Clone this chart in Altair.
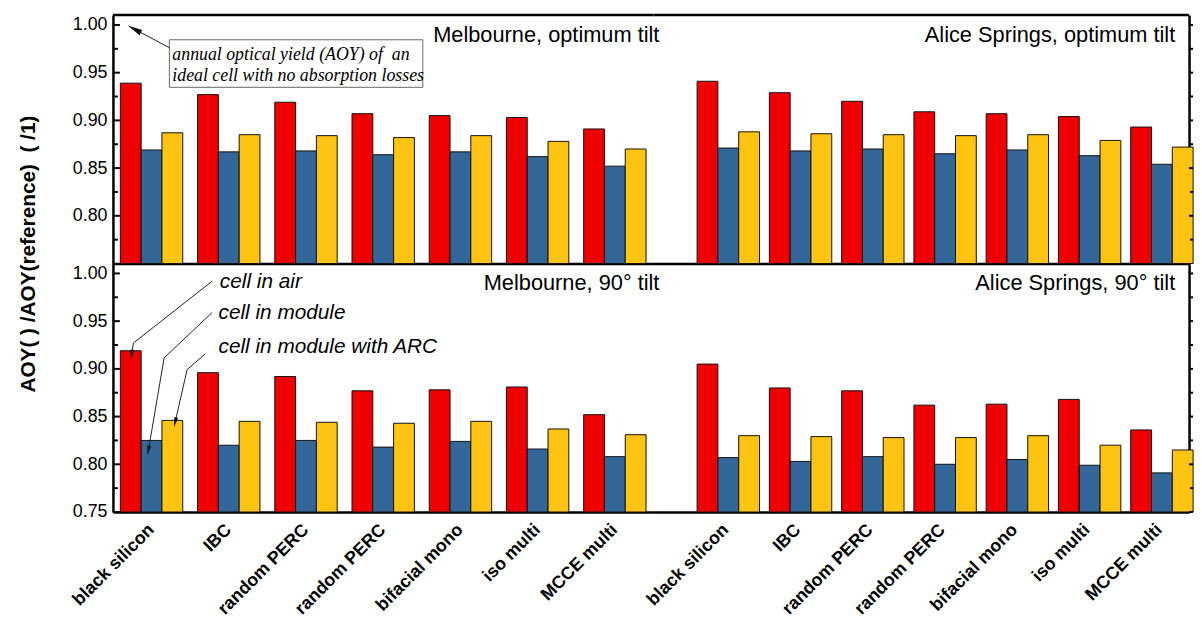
import json
import altair as alt
import pandas as pd

categories = ["black silicon", "IBC", "random PERC", "random PERC", "bifacial mono", "iso multi", "MCCE multi"]
series = ["cell in air", "cell in module", "cell in module with ARC"]
colors = ["#EE0000", "#336699", "#FFC312"]

mel_opt_air = [0.939, 0.927, 0.919, 0.907, 0.905, 0.903, 0.891]
mel_opt_mod = [0.869, 0.867, 0.868, 0.864, 0.867, 0.862, 0.852]
mel_opt_arc = [0.887, 0.885, 0.884, 0.882, 0.884, 0.878, 0.870]

ali_opt_air = [0.941, 0.929, 0.920, 0.909, 0.907, 0.904, 0.893]
ali_opt_mod = [0.871, 0.868, 0.870, 0.865, 0.869, 0.863, 0.854]
ali_opt_arc = [0.888, 0.886, 0.885, 0.884, 0.885, 0.879, 0.872]

mel_90_air = [0.919, 0.896, 0.892, 0.877, 0.878, 0.881, 0.852]
mel_90_mod = [0.825, 0.820, 0.825, 0.818, 0.824, 0.816, 0.808]
mel_90_arc = [0.846, 0.845, 0.844, 0.843, 0.845, 0.837, 0.831]

ali_90_air = [0.905, 0.880, 0.877, 0.862, 0.863, 0.868, 0.836]
ali_90_mod = [0.807, 0.803, 0.808, 0.800, 0.805, 0.799, 0.791]
ali_90_arc = [0.830, 0.829, 0.828, 0.828, 0.830, 0.820, 0.815]

panel_titles = ["Melbourne, optimum tilt", "Alice Springs, optimum tilt",
                "Melbourne, 90\u00b0 tilt", "Alice Springs, 90\u00b0 tilt"]
y_title = "AOY( ) /AOY(reference)\u00a0\u00a0( /1)"
box_lines = ["annual optical yield (AOY) of\u00a0\u00a0an", "ideal cell with no absorption losses"]

y_domain = [0.75, 1.0104]
major_top = [0.80, 0.85, 0.90, 0.95, 1.00]
major_bottom = [0.75, 0.80, 0.85, 0.90, 0.95, 1.00]
minor_ticks = [0.775, 0.825, 0.875, 0.925, 0.975]

H = 251
W_LEFT = 546
W_RIGHT = 541
FONT = "Liberation Sans"
PAD = {"left": 10, "top": 2, "right": 0, "bottom": 0}

one = alt.Data(values=[{}])


def seg(x1, y1, x2, y2, w=1):
    return alt.Chart(one).mark_rule(color="#222", strokeWidth=w).encode(
        x=alt.value(x1), y=alt.value(y1), x2=alt.value(x2), y2=alt.value(y2))


def head(x, y, angle, size):
    return alt.Chart(one).mark_point(
        shape="M0,-1L0.4,1L-0.4,1Z", filled=True, color="#111", opacity=1,
        strokeWidth=0, angle=angle, size=size).encode(x=alt.value(x), y=alt.value(y))


def text(x, y, s, size=21, align="left", font=FONT, style="normal", weight="normal"):
    return alt.Chart(one).mark_text(
        text=s, align=align, baseline="middle", fontSize=size, font=font,
        fontStyle=style, fontWeight=weight, color="black").encode(
        x=alt.value(x), y=alt.value(y))


def panel(air, mod, arc, side, row, title_text, extra=None):
    W = W_LEFT if side == "left" else W_RIGHT
    rows = []
    for i in range(len(categories)):
        for s, vals in zip(series, [air, mod, arc]):
            rows.append({"idx": i, "series": s, "v": vals[i]})
    df = pd.DataFrame(rows)

    if side == "left":
        xscale = alt.Scale(paddingInner=0.192, paddingOuter=0.096)
    else:
        xscale = alt.Scale(paddingInner=0.205, paddingOuter=0.308, align=0.98)

    if row == "bottom":
        xaxis = alt.Axis(
            labelExpr="%s[datum.value]" % json.dumps(categories),
            labelAngle=-45, labelAlign="right", labelBaseline="middle",
            labelFontSize=18, labelFontWeight="bold", labelFont=FONT, labelColor="black",
            labelPadding=15, labelOverlap=False, ticks=False, tickSize=0,
            domainColor="black", domainWidth=2.5, title=None, grid=False)
    else:
        xaxis = alt.Axis(labels=False, ticks=False, tickSize=0, domainColor="black",
                         domainWidth=2.5, title=None, grid=False)

    yscale = alt.Scale(domain=y_domain, nice=False, zero=False)
    if side == "left":
        yaxis_kw = dict(
            orient="left", values=major_top if row == "top" else major_bottom,
            format=".2f", ticks=False, tickSize=0, domainColor="black", domainWidth=2.5,
            labelFontSize=18, labelFont=FONT, labelColor="black", labelPadding=6, grid=False)
        if row == "top":
            yaxis_kw.update(title=y_title, titleX=-85, titleY=241, titleAngle=270,
                            titleAlign="center", titleBaseline="middle", titleFontSize=21,
                            titleFont=FONT, titleFontWeight="bold", titleColor="black")
        else:
            yaxis_kw.update(title=None)
        yaxis = alt.Axis(**yaxis_kw)
    else:
        yaxis = alt.Axis(orient="right", labels=False, ticks=False, tickSize=0,
                         domainColor="black", domainWidth=2.5, grid=False, title=None)

    bars = alt.Chart(df).mark_bar(stroke="#111", strokeWidth=1).encode(
        x=alt.X("idx:O", scale=xscale, axis=xaxis),
        xOffset=alt.XOffset("series:N", sort=series,
                            scale=alt.Scale(paddingInner=0, paddingOuter=0)),
        y=alt.Y("v:Q", scale=yscale, axis=yaxis),
        y2=alt.datum(0.75),
        color=alt.Color("series:N", sort=series,
                        scale=alt.Scale(domain=series, range=colors), legend=None),
    )

    major = major_top if row == "top" else major_bottom
    if side == "left":
        mx1, mx2, nx1, nx2 = 0, 7, 0, 5
    else:
        mx1, mx2, nx1, nx2 = W, W + 4, W + 1, W + 4
    maj = alt.Chart(pd.DataFrame({"v": major})).mark_rule(color="black", strokeWidth=2).encode(
        y=alt.Y("v:Q", scale=yscale, axis=yaxis), x=alt.value(mx1), x2=alt.value(mx2))
    mnr = alt.Chart(pd.DataFrame({"v": minor_ticks})).mark_rule(color="black", strokeWidth=2).encode(
        y=alt.Y("v:Q", scale=yscale, axis=yaxis), x=alt.value(nx1), x2=alt.value(nx2))

    layers = [bars, maj, mnr]
    if row == "top":
        layers.append(alt.Chart(one).mark_rule(color="black", strokeWidth=2.5).encode(
            x=alt.value(0), x2=alt.value(W), y=alt.value(0)))
    tx = W + 6 if side == "left" else 527
    layers.append(text(tx, 20, title_text, size=22, align="right"))
    if extra:
        layers.extend(extra)
    return alt.layer(*layers).properties(width=W, height=H)


box = [
    alt.Chart(one).mark_rect(fill="white", stroke="#666", strokeWidth=1).encode(
        x=alt.value(57), x2=alt.value(313), y=alt.value(25), y2=alt.value(73)),
    text(60, 40, box_lines[0], size=18, font="Liberation Serif", style="italic"),
    text(60, 62, box_lines[1], size=18, font="Liberation Serif", style="italic"),
    seg(57, 33, 21.6, 14.2),
    head(21.6, 14.2, 298, 225),
]

labels_ann = [
    text(108, 19, series[0], size=21, style="italic"),
    text(106.7, 50, series[1], size=21, style="italic"),
    text(106.7, 84.5, series[2], size=21, style="italic"),
    seg(100, 18, 20.7, 80.3), seg(20.7, 80.3, 19.0, 92.1), head(19.0, 92.1, 188, 100),
    seg(100, 49.7, 51.7, 95.3), seg(51.7, 95.3, 35.8, 188.8), head(35.8, 188.8, 190, 100),
    seg(93.3, 91.3, 75, 107), seg(75, 107, 62.8, 160.4), head(62.8, 160.4, 193, 100),
]

tl = panel(mel_opt_air, mel_opt_mod, mel_opt_arc, "left", "top", panel_titles[0], box)
tr = panel(ali_opt_air, ali_opt_mod, ali_opt_arc, "right", "top", panel_titles[1])
bl = panel(mel_90_air, mel_90_mod, mel_90_arc, "left", "bottom", panel_titles[2], labels_ann)
br = panel(ali_90_air, ali_90_mod, ali_90_arc, "right", "bottom", panel_titles[3])

chart = alt.concat(tl, tr, bl, br, columns=2, spacing=0, bounds="flush").properties(
    padding=PAD
).configure_view(stroke=None).configure_axis(grid=False)

chart.save("out.html", embed_options={"renderer": "svg", "actions": False, "padding": PAD})
